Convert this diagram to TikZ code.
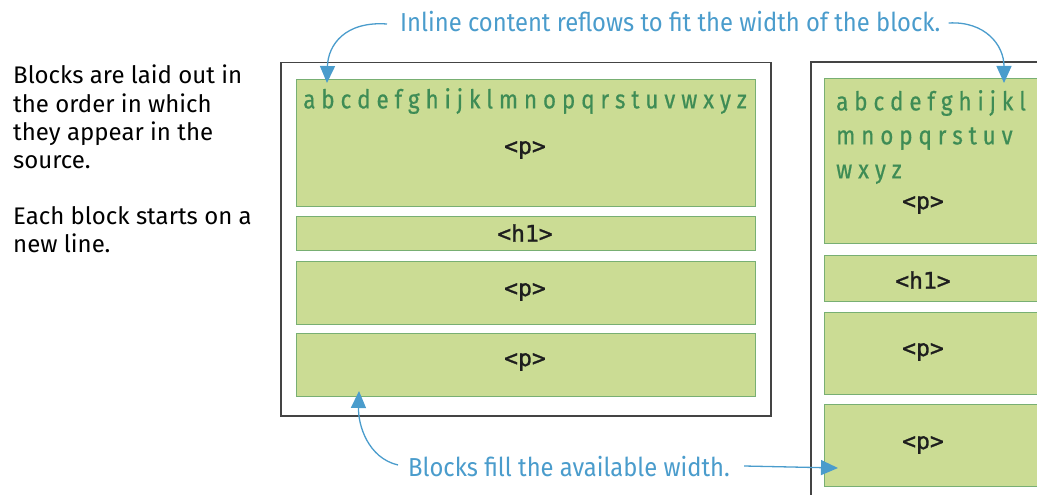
\documentclass[tikz,border=0pt]{standalone}
\usepackage{fontspec}
\setmainfont{Fira Sans}
\newfontfamily\condfont[FakeStretch=0.915]{Fira Sans}
\newfontfamily\abcfont[FakeStretch=0.86,FakeBold=0.6]{Fira Sans}
\newfontfamily\tagfont[FakeBold=1.2]{DejaVu Sans Mono}
\usetikzlibrary{arrows.meta}
\definecolor{blkfill}{RGB}{203,220,148}
\definecolor{blkdraw}{RGB}{120,175,115}
\definecolor{alphagreen}{RGB}{62,140,85}
\definecolor{annoblue}{RGB}{74,156,204}
\definecolor{framegray}{RGB}{68,68,68}
\definecolor{tagcol}{RGB}{30,30,30}
\tikzset{
  blk/.style={draw=blkdraw, fill=blkfill, line width=1.2pt, inner sep=0pt, anchor=north west},
  tag/.style={font=\tagfont\fontsize{23}{23}\selectfont, text=tagcol, inner sep=0pt},
  abc/.style={font=\abcfont\fontsize{26}{34}\selectfont, text=alphagreen, inner sep=0pt},
  anno/.style={font=\condfont\fontsize{26}{28}\selectfont, text=annoblue, inner sep=0pt},
  body/.style={font=\fontsize{24}{28.3}\selectfont, text=black, align=left, inner sep=0pt, anchor=north west},
  pointer/.style={draw=annoblue, line width=1.3pt, -{Triangle[length=17pt,width=15pt]}},
  frame/.style={draw=framegray, line width=1.5pt}
}
\begin{document}
\begin{tikzpicture}[x=1pt,y=-1pt]
\useasboundingbox (0,0) rectangle (1037,495);
\clip (0,0) rectangle (1037,495);
% left text
\node[body] (t1) at (13,65) {Blocks are laid out in\\the order in which\\they appear in the\\source.};
\node[body] (t2) at (13,206) {Each block starts on a\\new line.};
% left frame
\node[frame, inner sep=0pt, minimum width=490pt, minimum height=353pt, anchor=north west] (lf) at (280,62) {};
\node[blk, minimum width=459pt, minimum height=127pt] (b1) at (296,79) {};
\node[blk, minimum width=459pt, minimum height=34pt] (b2) at (296,216) {};
\node[blk, minimum width=459pt, minimum height=63pt] (b3) at (296,261) {};
\node[blk, minimum width=459pt, minimum height=63pt] (b4) at (296,333) {};
\node[abc] (la) at (525,101) {a b c d e f g h i j k l m n o p q r s t u v w x y z};
\node[tag] (l1) at (525,150) {<p>};
\node[tag] (l2) at (525,233) {<h1>};
\node[tag] (l3) at (525,292) {<p>};
\node[tag] (l4) at (525,362) {<p>};
% right frame
\coordinate (rfb) at (811,505);
\coordinate (rfc) at (811,62);
\coordinate (rfr) at (1050,62);
\draw[frame] (rfb) -- (rfc) -- (rfr);
\node[blk, minimum width=240pt, minimum height=165pt] (r1) at (824,78) {};
\node[blk, minimum width=240pt, minimum height=46pt] (r2) at (824,255) {};
\node[blk, minimum width=240pt, minimum height=82pt] (r3) at (824,312) {};
\node[blk, minimum width=240pt, minimum height=82pt] (r4) at (824,404) {};
\node[abc, align=left, anchor=west] (ra) at (836,137) {a b c d e f g h i j k l\\m n o p q r s t u v\\w x y z};
\node[tag] (q1) at (923,205) {<p>};
\node[tag] (q2) at (923,280) {<h1>};
\node[tag] (q3) at (923,352) {<p>};
\node[tag] (q4) at (923,445) {<p>};
% annotations
\node[anno, anchor=west] (ta) at (400,22) {Inline content reflows to fit the width of the block.};
\node[anno, anchor=west] (ba) at (408,467) {Blocks fill the available width.};
\coordinate (tipA) at (327,83);
\coordinate (tipB) at (1004,83);
\coordinate (tipC) at (359,391);
\coordinate (tipD) at (838,468);
\draw[pointer] ([xshift=-13pt,yshift=-2pt]ta.west) .. controls (345,21) and (328,45) .. (tipA);
\draw[pointer] ([xshift=8pt,yshift=-1pt]ta.east) .. controls (985,21) and (1004,45) .. (tipB);
\draw[pointer] ([xshift=-10pt,yshift=2pt]ba.west) .. controls (368,458) and (358,425) .. (tipC);
\draw[pointer] ([xshift=14pt,yshift=1pt]ba.east) -- (tipD);
\end{tikzpicture}
\end{document}
